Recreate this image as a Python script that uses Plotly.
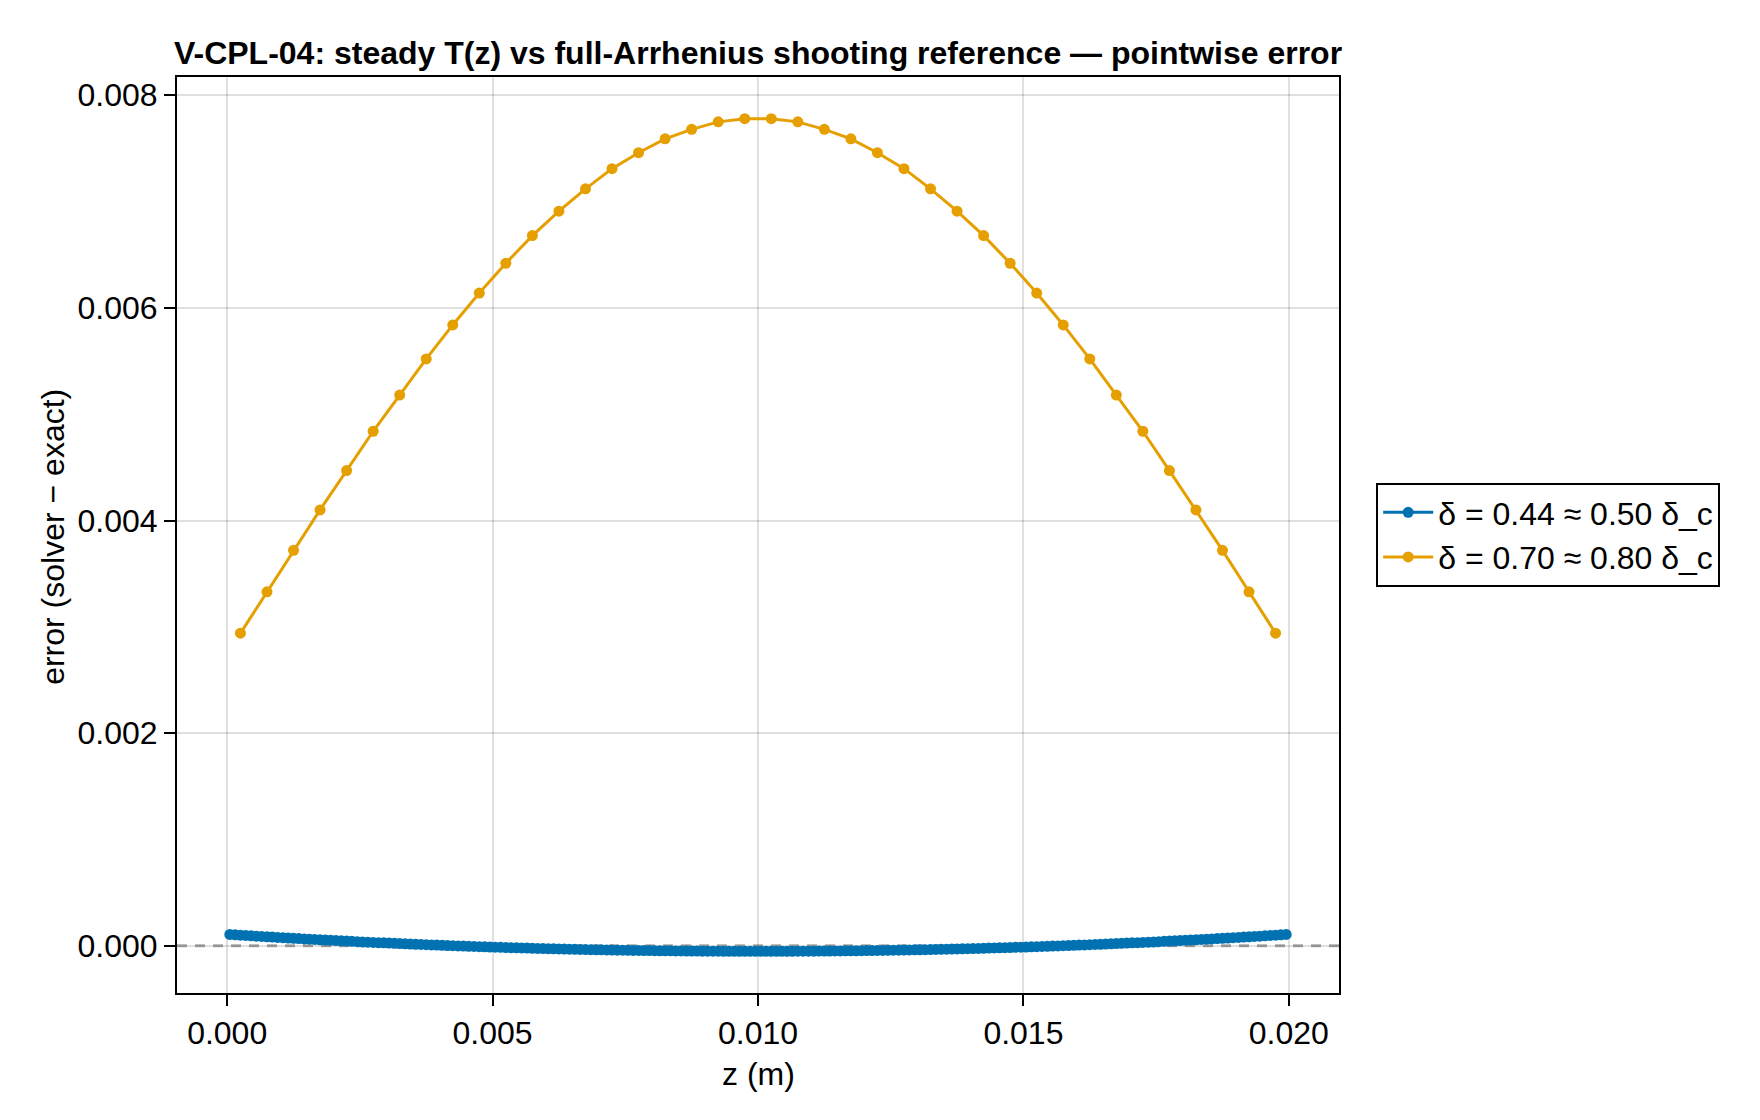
import plotly.graph_objects as go

# ---------------- data ----------------
z_a = [
    0.00005, 0.00015, 0.00025, 0.00035, 0.00045, 0.00055, 0.00065, 0.00075, 0.00085, 0.00095,
    0.00105, 0.00115, 0.00125, 0.00135, 0.00145, 0.00155, 0.00165, 0.00175, 0.00185, 0.00195,
    0.00205, 0.00215, 0.00225, 0.00235, 0.00245, 0.00255, 0.00265, 0.00275, 0.00285, 0.00295,
    0.00305, 0.00315, 0.00325, 0.00335, 0.00345, 0.00355, 0.00365, 0.00375, 0.00385, 0.00395,
    0.00405, 0.00415, 0.00425, 0.00435, 0.00445, 0.00455, 0.00465, 0.00475, 0.00485, 0.00495,
    0.00505, 0.00515, 0.00525, 0.00535, 0.00545, 0.00555, 0.00565, 0.00575, 0.00585, 0.00595,
    0.00605, 0.00615, 0.00625, 0.00635, 0.00645, 0.00655, 0.00665, 0.00675, 0.00685, 0.00695,
    0.00705, 0.00715, 0.00725, 0.00735, 0.00745, 0.00755, 0.00765, 0.00775, 0.00785, 0.00795,
    0.00805, 0.00815, 0.00825, 0.00835, 0.00845, 0.00855, 0.00865, 0.00875, 0.00885, 0.00895,
    0.00905, 0.00915, 0.00925, 0.00935, 0.00945, 0.00955, 0.00965, 0.00975, 0.00985, 0.00995,
    0.01005, 0.01015, 0.01025, 0.01035, 0.01045, 0.01055, 0.01065, 0.01075, 0.01085, 0.01095,
    0.01105, 0.01115, 0.01125, 0.01135, 0.01145, 0.01155, 0.01165, 0.01175, 0.01185, 0.01195,
    0.01205, 0.01215, 0.01225, 0.01235, 0.01245, 0.01255, 0.01265, 0.01275, 0.01285, 0.01295,
    0.01305, 0.01315, 0.01325, 0.01335, 0.01345, 0.01355, 0.01365, 0.01375, 0.01385, 0.01395,
    0.01405, 0.01415, 0.01425, 0.01435, 0.01445, 0.01455, 0.01465, 0.01475, 0.01485, 0.01495,
    0.01505, 0.01515, 0.01525, 0.01535, 0.01545, 0.01555, 0.01565, 0.01575, 0.01585, 0.01595,
    0.01605, 0.01615, 0.01625, 0.01635, 0.01645, 0.01655, 0.01665, 0.01675, 0.01685, 0.01695,
    0.01705, 0.01715, 0.01725, 0.01735, 0.01745, 0.01755, 0.01765, 0.01775, 0.01785, 0.01795,
    0.01805, 0.01815, 0.01825, 0.01835, 0.01845, 0.01855, 0.01865, 0.01875, 0.01885, 0.01895,
    0.01905, 0.01915, 0.01925, 0.01935, 0.01945, 0.01955, 0.01965, 0.01975, 0.01985, 0.01995,
]
err_a = [
    106.4e-6, 103.2e-6, 100.1e-6, 97.0e-6, 93.9e-6, 90.9e-6, 87.9e-6, 84.9e-6, 82.0e-6, 79.0e-6,
    76.2e-6, 73.3e-6, 70.5e-6, 67.7e-6, 65.0e-6, 62.2e-6, 59.6e-6, 56.9e-6, 54.3e-6, 51.7e-6,
    49.1e-6, 46.6e-6, 44.1e-6, 41.6e-6, 39.2e-6, 36.8e-6, 34.4e-6, 32.1e-6, 29.8e-6, 27.5e-6,
    25.3e-6, 23.1e-6, 20.9e-6, 18.8e-6, 16.6e-6, 14.6e-6, 12.5e-6, 10.5e-6, 8.5e-6, 6.6e-6,
    4.6e-6, 2.8e-6, 0.9e-6, -0.9e-6, -2.7e-6, -4.5e-6, -6.2e-6, -7.9e-6, -9.6e-6, -11.2e-6,
    -12.8e-6, -14.4e-6, -15.9e-6, -17.4e-6, -18.9e-6, -20.3e-6, -21.7e-6, -23.1e-6, -24.4e-6, -25.8e-6,
    -27.0e-6, -28.3e-6, -29.5e-6, -30.7e-6, -31.8e-6, -33.0e-6, -34.0e-6, -35.1e-6, -36.1e-6, -37.1e-6,
    -38.1e-6, -39.0e-6, -39.9e-6, -40.8e-6, -41.6e-6, -42.4e-6, -43.2e-6, -43.9e-6, -44.6e-6, -45.3e-6,
    -45.9e-6, -46.5e-6, -47.1e-6, -47.6e-6, -48.2e-6, -48.6e-6, -49.1e-6, -49.5e-6, -49.9e-6, -50.2e-6,
    -50.6e-6, -50.8e-6, -51.1e-6, -51.3e-6, -51.5e-6, -51.7e-6, -51.8e-6, -51.9e-6, -52.0e-6, -52.0e-6,
    -52.0e-6, -52.0e-6, -51.9e-6, -51.8e-6, -51.7e-6, -51.5e-6, -51.3e-6, -51.1e-6, -50.8e-6, -50.6e-6,
    -50.2e-6, -49.9e-6, -49.5e-6, -49.1e-6, -48.6e-6, -48.2e-6, -47.6e-6, -47.1e-6, -46.5e-6, -45.9e-6,
    -45.3e-6, -44.6e-6, -43.9e-6, -43.2e-6, -42.4e-6, -41.6e-6, -40.8e-6, -39.9e-6, -39.0e-6, -38.1e-6,
    -37.1e-6, -36.1e-6, -35.1e-6, -34.0e-6, -33.0e-6, -31.8e-6, -30.7e-6, -29.5e-6, -28.3e-6, -27.0e-6,
    -25.8e-6, -24.4e-6, -23.1e-6, -21.7e-6, -20.3e-6, -18.9e-6, -17.4e-6, -15.9e-6, -14.4e-6, -12.8e-6,
    -11.2e-6, -9.6e-6, -7.9e-6, -6.2e-6, -4.5e-6, -2.7e-6, -0.9e-6, 0.9e-6, 2.8e-6, 4.6e-6,
    6.6e-6, 8.5e-6, 10.5e-6, 12.5e-6, 14.6e-6, 16.6e-6, 18.8e-6, 20.9e-6, 23.1e-6, 25.3e-6,
    27.5e-6, 29.8e-6, 32.1e-6, 34.4e-6, 36.8e-6, 39.2e-6, 41.6e-6, 44.1e-6, 46.6e-6, 49.1e-6,
    51.7e-6, 54.3e-6, 56.9e-6, 59.6e-6, 62.2e-6, 65.0e-6, 67.7e-6, 70.5e-6, 73.3e-6, 76.2e-6,
    79.0e-6, 82.0e-6, 84.9e-6, 87.9e-6, 90.9e-6, 93.9e-6, 97.0e-6, 100.1e-6, 103.2e-6, 106.4e-6,
]

z_b = [
    0.00025, 0.00075, 0.00125, 0.00175, 0.00225, 0.00275, 0.00325, 0.00375, 0.00425, 0.00475,
    0.00525, 0.00575, 0.00625, 0.00675, 0.00725, 0.00775, 0.00825, 0.00875, 0.00925, 0.00975,
    0.01025, 0.01075, 0.01125, 0.01175, 0.01225, 0.01275, 0.01325, 0.01375, 0.01425, 0.01475,
    0.01525, 0.01575, 0.01625, 0.01675, 0.01725, 0.01775, 0.01825, 0.01875, 0.01925, 0.01975,
]
err_b = [
    0.00294, 0.00333, 0.00372, 0.00410, 0.00447, 0.00484, 0.00518, 0.00552, 0.00584, 0.00614,
    0.00642, 0.00668, 0.00691, 0.00712, 0.00731, 0.00746, 0.00759, 0.00768, 0.00775, 0.00778,
    0.00778, 0.00775, 0.00768, 0.00759, 0.00746, 0.00731, 0.00712, 0.00691, 0.00668, 0.00642,
    0.00614, 0.00584, 0.00552, 0.00518, 0.00484, 0.00447, 0.00410, 0.00372, 0.00333, 0.00294,
]

series_names = ["δ = 0.44 ≈ 0.50 δ_c", "δ = 0.70 ≈ 0.80 δ_c"]
x_ticks = [0.0, 0.005, 0.010, 0.015, 0.020]
y_ticks = [0.0, 0.002, 0.004, 0.006, 0.008]

title_text = "V-CPL-04: steady T(z) vs full-Arrhenius shooting reference — pointwise error"
x_label = "z (m)"
y_label = "error (solver − exact)"

# ---------------- figure ----------------
FONT = "Liberation Sans, Arial, Helvetica, sans-serif"
BLUE = "#0072B2"
ORANGE = "#E69F00"

fig = go.Figure()
fig.add_trace(go.Scatter(
    x=z_a, y=err_a, mode="lines+markers", name=series_names[0],
    line=dict(color=BLUE, width=3),
    marker=dict(color=BLUE, size=11, line=dict(width=0)),
))
fig.add_trace(go.Scatter(
    x=z_b, y=err_b, mode="lines+markers", name=series_names[1],
    line=dict(color=ORANGE, width=3),
    marker=dict(color=ORANGE, size=11, line=dict(width=0)),
))

fig.add_shape(type="line", xref="paper", x0=0, x1=1, yref="y", y0=0, y1=0,
              line=dict(color="rgb(170,170,170)", width=3, dash="10px,8px"),
              layer="between")

axis_common = dict(
    showline=True, mirror=True, linecolor="black", linewidth=2,
    ticks="outside", ticklen=11, tickwidth=2, tickcolor="black",
    showgrid=True, gridcolor="rgba(0,0,0,0.12)", gridwidth=2,
    zeroline=False, tickformat=".3f",
    tickfont=dict(family=FONT, size=32, color="black"),
)

fig.update_xaxes(range=[-0.000945, 0.020945], tickvals=x_ticks, **axis_common)
fig.update_yaxes(range=[-0.000444, 0.008172], tickvals=y_ticks, **axis_common)

fig.update_layout(
    width=1760, height=1120,
    margin=dict(l=177, r=421, t=77, b=127),
    paper_bgcolor="white", plot_bgcolor="white",
    font=dict(family=FONT, size=32, color="black"),
    title=dict(text="<b>" + title_text + "</b>", x=0.5, xref="paper",
               y=1 - 52.7 / 1120, yref="container", yanchor="middle", xanchor="center",
               font=dict(family=FONT, size=32, color="black")),
    legend=dict(x=1.032, xanchor="left", y=0.5, yanchor="middle",
                bordercolor="black", borderwidth=2, bgcolor="white",
                font=dict(family=FONT, size=32, color="black"),
                tracegroupgap=0, itemwidth=50, entrywidth=309,
                entrywidthmode="pixels"),
    showlegend=True,
    annotations=[
        dict(text=x_label, xref="paper", yref="paper", x=0.5, y=-0.0884,
             xanchor="center", yanchor="middle", showarrow=False,
             font=dict(family=FONT, size=32, color="black")),
        dict(text=y_label, xref="paper", yref="paper", x=-0.1067, y=0.498,
             xanchor="center", yanchor="middle", textangle=-90, showarrow=False,
             font=dict(family=FONT, size=32, color="black")),
    ],
)

fig.write_html("out.html")
